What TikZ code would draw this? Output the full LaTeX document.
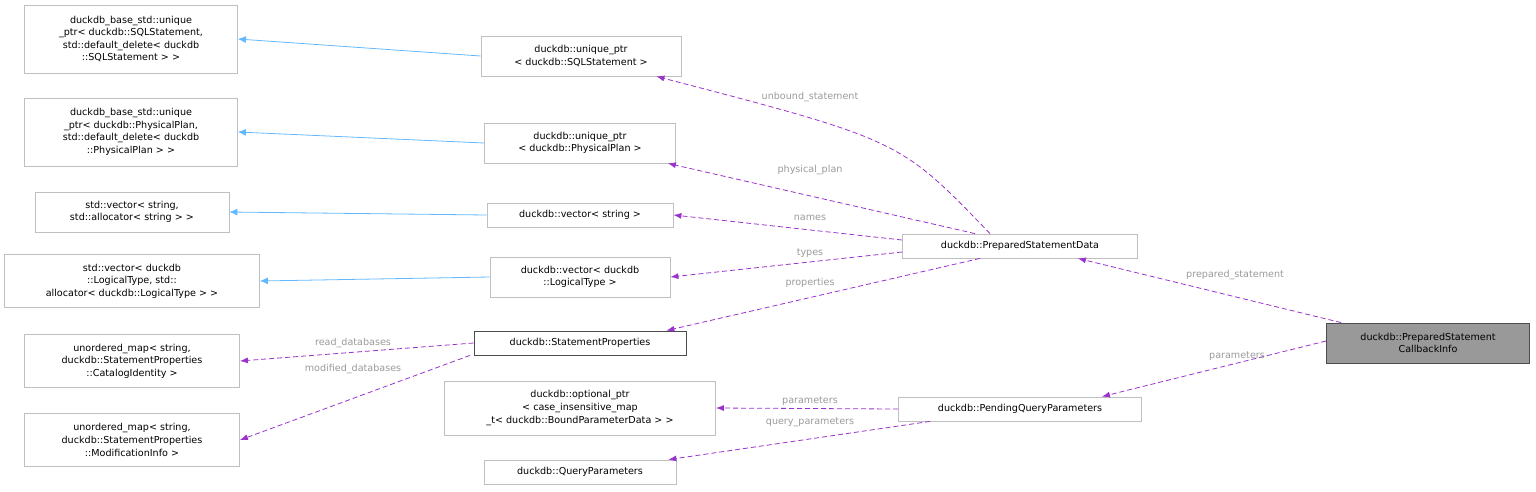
\documentclass[tikz,border=0pt]{standalone}
\usepackage{fontspec}
\setmainfont{DejaVu Sans}
\usetikzlibrary{arrows.meta}
\definecolor{edgeuse}{HTML}{9A32CD}
\definecolor{edgeinh}{HTML}{63B8FF}
\definecolor{boxline}{HTML}{BFBFBF}
\definecolor{lbl}{HTML}{9A9A9A}
\tikzset{
  cls/.style={draw=boxline,fill=white,align=center,inner sep=2pt,font=\fontsize{9.6}{12.6}\selectfont,minimum height=24pt,line width=0.8pt},
  use/.style={draw=edgeuse,line width=0.8pt,dash pattern=on 5pt off 3pt,-{Latex[length=8pt,width=6pt]}},
  inh/.style={draw=edgeinh,line width=0.8pt,-{Latex[length=8pt,width=7pt]}},
  elbl/.style={text=lbl,font=\fontsize{9.6}{11}\selectfont,inner sep=1pt}
}
\begin{document}
\begin{tikzpicture}[x=1pt,y=-1pt]
  \useasboundingbox (0,0) rectangle (1536,491);
  % base classes
  \node[cls,minimum width=213pt,minimum height=68pt] (sqlbase) at (131,39) {duckdb\_base\_std::unique\\\_ptr< duckdb::SQLStatement,\\ std::default\_delete< duckdb\\::SQLStatement > >};
  \node[cls,minimum width=213pt,minimum height=68pt] (planbase) at (131,132) {duckdb\_base\_std::unique\\\_ptr< duckdb::PhysicalPlan,\\ std::default\_delete< duckdb\\::PhysicalPlan > >};
  \node[cls,minimum width=194pt,minimum height=40pt] (strbase) at (132,212) {std::vector< string,\\ std::allocator< string > >};
  \node[cls,minimum width=255pt,minimum height=53pt] (typebase) at (132,281) {std::vector< duckdb\\::LogicalType, std::\\allocator< duckdb::LogicalType > >};
  \node[cls,minimum width=215pt,minimum height=53pt] (readmap) at (132,361) {unordered\_map< string,\\ duckdb::StatementProperties\\::CatalogIdentity >};
  \node[cls,minimum width=215pt,minimum height=53pt] (modmap) at (132,440) {unordered\_map< string,\\ duckdb::StatementProperties\\::ModificationInfo >};
  % members
  \node[cls,minimum width=200pt,minimum height=40pt] (sqlptr) at (581,56) {duckdb::unique\_ptr\\< duckdb::SQLStatement >};
  \node[cls,minimum width=191pt,minimum height=40pt] (planptr) at (580,143) {duckdb::unique\_ptr\\< duckdb::PhysicalPlan >};
  \node[cls,minimum width=186pt] (names) at (580,215) {duckdb::vector< string >};
  \node[cls,minimum width=180pt,minimum height=40pt] (types) at (580,277) {duckdb::vector< duckdb\\::LogicalType >};
  \node[cls,draw=black!70,minimum width=212pt] (props) at (580,343) {duckdb::StatementProperties};
  \node[cls,minimum width=271pt,minimum height=54pt] (optptr) at (580,408) {duckdb::optional\_ptr\\< case\_insensitive\_map\\\_t< duckdb::BoundParameterData > >};
  \node[cls,minimum width=192pt] (qparams) at (580,472) {duckdb::QueryParameters};
  \node[cls,minimum width=235pt] (prepdata) at (1020,246) {duckdb::PreparedStatementData};
  \node[cls,minimum width=243pt] (pending) at (1020,409) {duckdb::PendingQueryParameters};
  \node[cls,draw=black!70,fill=black!40,minimum width=203pt,minimum height=40pt] (info) at (1428,343) {duckdb::PreparedStatement\\CallbackInfo};
  % inheritance
  \draw[inh] (sqlptr.west) -- (sqlbase.east);
  \draw[inh] (planptr.west) -- (planbase.east);
  \draw[inh] (names.west) -- (strbase.east);
  \draw[inh] (types.west) -- (typebase.east);
  % usage
  \draw[use] ([xshift=-30pt]prepdata.north) .. controls (900,140) .. ([xshift=-25pt]sqlptr.south east);
  \draw[use] ([xshift=-45pt]prepdata.north) -- ([xshift=-8pt]planptr.south east);
  \draw[use] ([yshift=6pt]prepdata.west) -- (names.east);
  \draw[use] ([yshift=-6pt]prepdata.west) -- (types.east);
  \draw[use] ([xshift=-40pt]prepdata.south) -- ([xshift=-20pt]props.north east);
  \draw[use] (props.west) -- (readmap.east);
  \draw[use] ([xshift=-110pt]props.south) -- (modmap.east);
  \draw[use] ([xshift=15pt]info.north west) -- ([xshift=-60pt]prepdata.south east);
  \draw[use] ([yshift=2pt]info.west) -- ([xshift=-40pt]pending.north east);
  \draw[use] (pending.west) -- (optptr.east);
  \draw[use] ([xshift=-90pt]pending.south) -- ([xshift=-8pt]qparams.north east);
  % edge labels
  \node[elbl] (lunbound) at (810,97) {unbound\_statement};
  \node[elbl] (lplan) at (810,170) {physical\_plan};
  \node[elbl] (lnames) at (810,218) {names};
  \node[elbl] (ltypes) at (810,253) {types};
  \node[elbl] (lprops) at (810,283) {properties};
  \node[elbl] (lread) at (353,343) {read\_databases};
  \node[elbl] (lmod) at (353,369) {modified\_databases};
  \node[elbl] (lprep) at (1235,275) {prepared\_statement};
  \node[elbl] (lparams) at (1237,356) {parameters};
  \node[elbl] (lopt) at (810,401) {parameters};
  \node[elbl] (lquery) at (810,422) {query\_parameters};
\end{tikzpicture}
\end{document}
